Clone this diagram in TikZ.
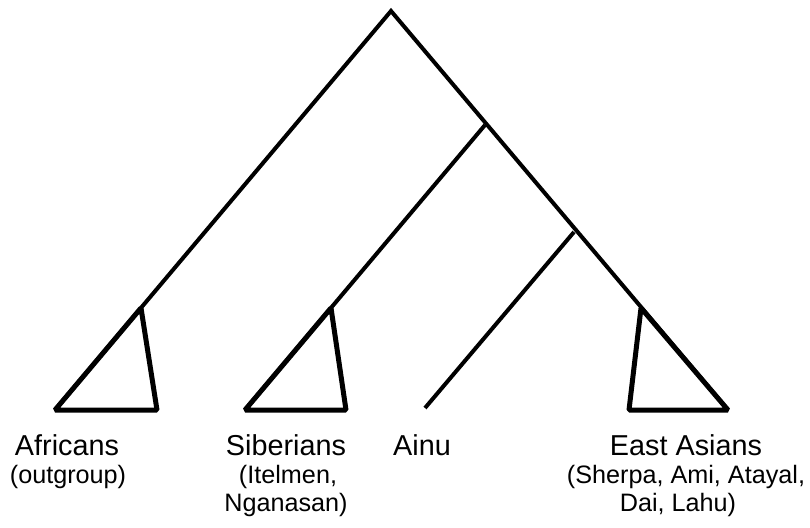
\documentclass[tikz,border=0pt]{standalone}
\usepackage{fontspec}
\setmainfont{Liberation Sans}
\begin{document}
\begin{tikzpicture}[x=1pt,y=-1pt,
  branch/.style={line width=4pt,line join=miter,line cap=butt},
  clade/.style={line width=5pt,line join=bevel,line cap=butt},
  mainlab/.style={anchor=base,inner sep=0pt,font=\fontsize{28.8}{32}\selectfont},
  sublab/.style={anchor=base,inner sep=0pt,font=\fontsize{25.2}{28}\selectfont}]
\useasboundingbox (0,0) rectangle (810,527);
% tree coordinates
\coordinate (root) at (391,11);
\coordinate (n2) at (485,125);
\coordinate (n3) at (574,232);
\coordinate (afA) at (141,308);
\coordinate (afL) at (55,410);
\coordinate (afR) at (157,410);
\coordinate (siA) at (331,308);
\coordinate (siL) at (245,410);
\coordinate (siR) at (346,410);
\coordinate (ain) at (425,408);
\coordinate (eaA) at (641,308);
\coordinate (eaL) at (629,410);
\coordinate (eaR) at (728,410);
% branches
\draw[branch] (afL) -- (root) -- (eaR);
\draw[branch] (n2) -- (siL);
\draw[branch] (n3) -- (ain);
% clade triangles
\draw[clade] (afA) -- (afR) -- (afL) -- cycle;
\draw[clade] (siA) -- (siR) -- (siL) -- cycle;
\draw[clade] (eaA) -- (eaL) -- (eaR) -- cycle;
% labels
\node[mainlab] (af) at (67,455) {Africans};
\node[sublab] (afs) at (68,483) {(outgroup)};
\node[mainlab] (si) at (286,455) {Siberians};
\node[sublab] (si1) at (288,483) {(Itelmen,};
\node[sublab] (si2) at (286,511) {Nganasan)};
\node[mainlab] (ai) at (422,455) {Ainu};
\node[mainlab] (ea) at (686,455) {East Asians};
\node[sublab] (ea1) at (686,483) {(Sherpa, Ami, Atayal,};
\node[sublab] (ea2) at (678,511) {Dai, Lahu)};
\end{tikzpicture}
\end{document}
